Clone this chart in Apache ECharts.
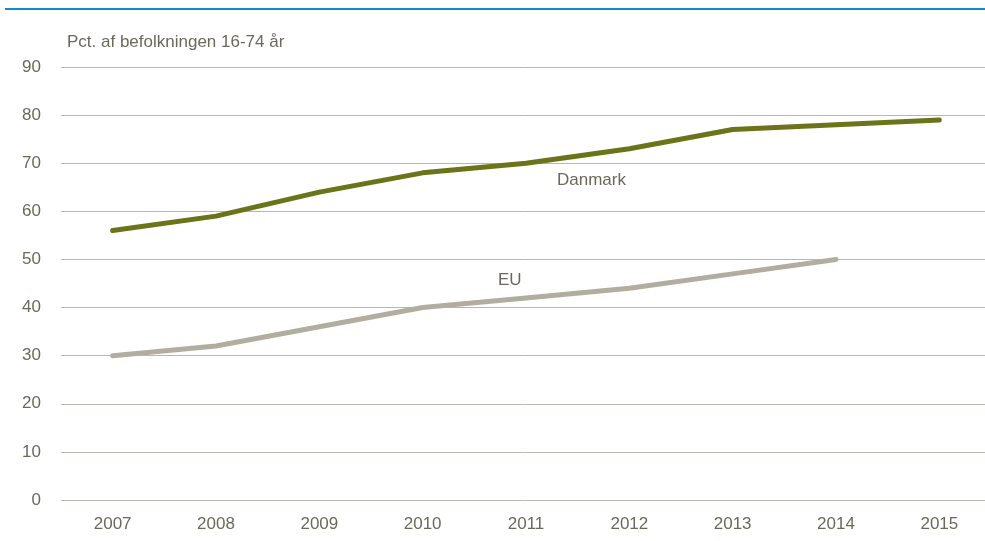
<!DOCTYPE html>
<html>
<head>
<meta charset="utf-8">
<script src="https://cdn.jsdelivr.net/npm/echarts@6/dist/echarts.min.js"></script>
<style>
  html, body { margin: 0; padding: 0; background: #fff; }
  #chart { width: 985px; height: 541px; }
</style>
</head>
<body>
<div id="chart"></div>
<script>
var years = ['2007', '2008', '2009', '2010', '2011', '2012', '2013', '2014', '2015'];
var danmark = [56, 59, 64, 68, 70, 73, 77, 78, 79];
var eu = [30, 32, 36, 40, 42, 44, 47, 50, null];

var textColor = '#6b695c';
var font = '"Liberation Sans", Arial, sans-serif';

var myChart = echarts.init(document.getElementById('chart'));
var option = {
  animation: false,
  textStyle: { fontFamily: font },
  grid: { left: 61, top: 67, width: 930, height: 433, outerBoundsMode: 'none', containLabel: false },
  graphic: [
    { type: 'rect', left: 5, top: 8, shape: { width: 980, height: 2 }, style: { fill: '#0a8ccc' } },
    { type: 'text', left: 67, top: 34, style: { text: 'Pct. af befolkningen 16-74 år', fill: textColor, font: '17px ' + font } },
    { type: 'text', left: 557, top: 172, style: { text: 'Danmark', fill: textColor, font: '17px ' + font } },
    { type: 'text', left: 498, top: 272, style: { text: 'EU', fill: textColor, font: '17px ' + font } }
  ],
  xAxis: {
    type: 'category',
    data: years,
    boundaryGap: true,
    axisLine: { show: false },
    axisTick: { show: false },
    axisLabel: { color: textColor, fontSize: 17, margin: 16 }
  },
  yAxis: {
    type: 'value',
    min: 0,
    max: 90,
    interval: 10,
    axisLine: { show: false },
    axisTick: { show: false },
    axisLabel: { color: textColor, fontSize: 17, margin: 20 },
    splitLine: { lineStyle: { color: '#b9b6ac', width: 1 } }
  },
  series: [{
    name: 'Danmark',
    type: 'line',
    data: danmark,
    symbol: 'none',
    lineStyle: { color: '#6b7419', width: 5, cap: 'round', join: 'round' }
  }, {
    name: 'EU',
    type: 'line',
    data: eu,
    symbol: 'none',
    lineStyle: { color: '#b1ae9f', width: 5, cap: 'round', join: 'round' }
  }]
};
myChart.setOption(option);
</script>
</body>
</html>
